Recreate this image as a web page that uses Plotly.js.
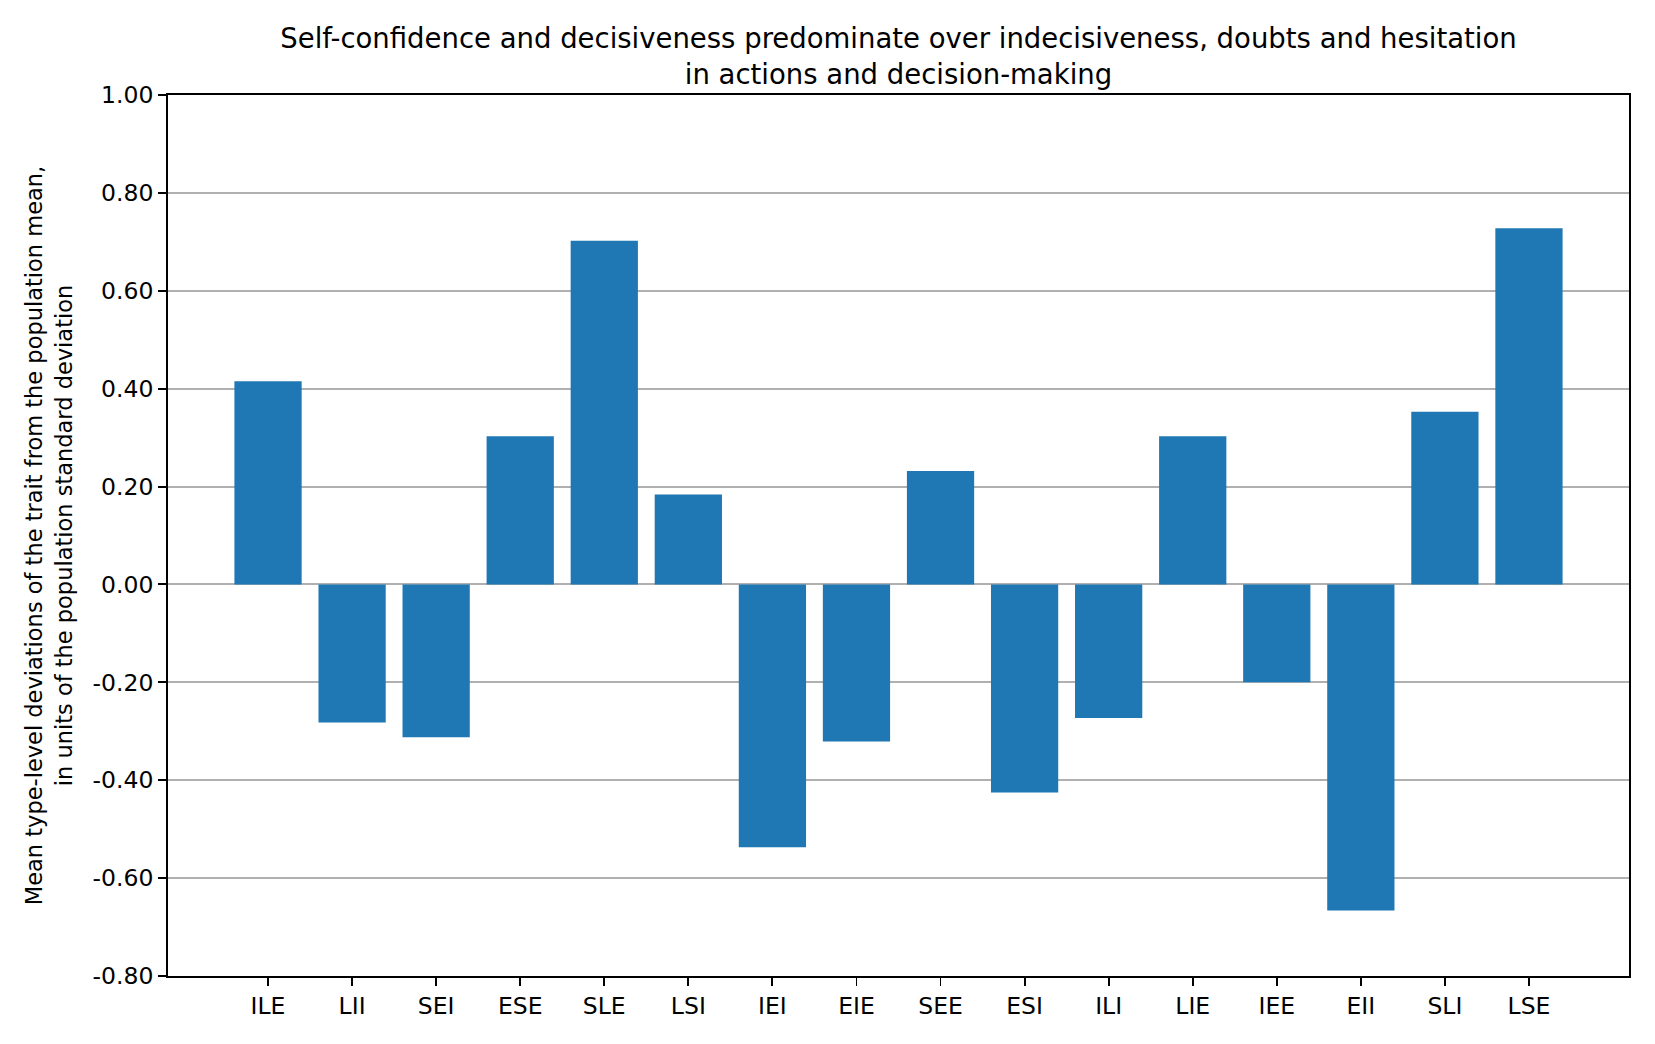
<!DOCTYPE html>
<html>
<head>
<meta charset="utf-8">
<script src="https://cdn.plot.ly/plotly-3.0.1.min.js"></script>
<style>html,body{margin:0;padding:0;background:#fff;}#chart{width:1655px;height:1044px;}</style>
</head>
<body>
<div id="chart"></div>
<script>
const categories = ["ILE","LII","SEI","ESE","SLE","LSI","IEI","EIE","SEE","ESI","ILI","LIE","IEE","EII","SLI","LSE"];
const values = [0.415, -0.282, -0.312, 0.303, 0.702, 0.184, -0.537, -0.321, 0.232, -0.425, -0.273, 0.303, -0.200, -0.666, 0.353, 0.728];
const yTickVals = [-0.8, -0.6, -0.4, -0.2, 0, 0.2, 0.4, 0.6, 0.8, 1.0];
const yTickText = ["-0.80", "-0.60", "-0.40", "-0.20", "0.00", "0.20", "0.40", "0.60", "0.80", "1.00"];
const titleText = "Self-confidence and decisiveness predominate over indecisiveness, doubts and hesitation<br>in actions and decision-making";
const yTitleText = "Mean type-level deviations of the trait from the population mean,<br>in units of the population standard deviation";

const font = "DejaVu Sans, sans-serif";
const trace = {
  type: "bar",
  x: categories.map((c, i) => i),
  y: values,
  width: 0.8,
  marker: {color: "#1f77b4", line: {width: 0}},
  hoverinfo: "x+y"
};
const layout = {
  width: 1655, height: 1044,
  margin: {l: 168, r: 26, t: 95, b: 68},
  paper_bgcolor: "#ffffff", plot_bgcolor: "#ffffff",
  font: {family: font, color: "#000", size: 23.5},
  title: {text: titleText, font: {family: font, size: 27.5, color: "#000"}, x: 0.5, xanchor: "center", xref: "paper", y: 1, yref: "container", yanchor: "top", pad: {t: 48}},
  showlegend: false,
  bargap: 0.2,
  xaxis: {
    range: [-1.19, 16.19],
    tickmode: "array",
    tickvals: categories.map((c, i) => i),
    ticktext: categories,
    ticks: "outside", ticklen: 8, tickwidth: 1.9, tickcolor: "#000",
    showline: true, linecolor: "#000", linewidth: 1.9, mirror: true,
    showgrid: false, zeroline: false,
    tickfont: {family: font, size: 23.5, color: "#000"}
  },
  yaxis: {
    range: [-0.8, 1.0],
    tickmode: "array",
    tickvals: yTickVals,
    ticktext: yTickText,
    ticks: "outside", ticklen: 8, tickwidth: 1.9, tickcolor: "#000",
    showline: true, linecolor: "#000", linewidth: 1.9, mirror: true,
    showgrid: true, gridcolor: "#b0b0b0", gridwidth: 1.9,
    zeroline: false,
    tickfont: {family: font, size: 23.5, color: "#000"},
    title: {text: yTitleText, font: {family: font, size: 22.5, color: "#000"}, standoff: 14}
  }
};
Plotly.newPlot("chart", [trace], layout, {displayModeBar: false, staticPlot: true});
</script>
</body>
</html>
